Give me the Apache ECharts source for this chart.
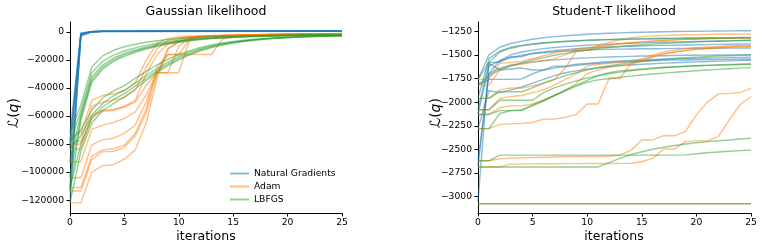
<!DOCTYPE html>
<html><head><meta charset="utf-8">
<script src="https://cdn.jsdelivr.net/npm/echarts@6/dist/echarts.min.js"></script>
<style>html,body{margin:0;padding:0;background:#fff}#c{width:763px;height:250px}</style>
</head><body><div id="c"></div>
<script>
// ---------- data ----------
const ITERS = [0,1,2,3,4,5,6,7,8,9,10,11,12,13,14,15,16,17,18,19,20,21,22,23,24,25];
const X_TICKS = [0,5,10,15,20,25];
const GAUSS_Y_TICKS = [-120000,-100000,-80000,-60000,-40000,-20000,0];
const STUDENT_Y_TICKS = [-3000,-2750,-2500,-2250,-2000,-1750,-1500,-1250];
const METHODS = ['Natural Gradients','Adam','LBFGS'];

// Gaussian likelihood
const GAUSS_NG_ITERS = [0,1,2,3,25];
const GAUSS_NG = [
  [-72000,-600,400,600,700],
  [-78000,-900,300,500,650],
  [-80000,-1100,350,550,600],
  [-83600,-1400,200,500,650],
  [-92600,-1600,250,450,600],
  [-104000,-1900,150,500,700],
  [-111000,-2200,300,550,600],
  [-113500,-2400,100,450,650],
  [-122000,-2800,200,500,600]
];
const GAUSS_ADAM = [
  [-72000,-72000,-48800,-45200,-44000,-41700,-36300,-20000,-8000,-4500,-3500,-3000,-2700,-2500,-2300,-2100,-1950,-1800,-1700,-1600,-1500,-1400,-1300,-1200,-1100,-1000],
  [-78000,-78000,-53000,-50000,-48800,-46400,-41700,-25000,-12000,-6000,-4200,-3300,-2900,-2600,-2400,-2200,-2000,-1850,-1750,-1650,-1550,-1450,-1350,-1250,-1150,-1050],
  [-80000,-80000,-59400,-55800,-55300,-53000,-48800,-30000,-16000,-8500,-5200,-3600,-3000,-2700,-2450,-2250,-2050,-1900,-1780,-1680,-1580,-1480,-1380,-1280,-1180,-1080],
  [-83600,-83600,-60500,-56500,-55800,-53500,-50000,-38000,-29000,-29000,-10000,-4200,-3300,-2900,-2600,-2350,-2150,-1980,-1830,-1710,-1600,-1500,-1400,-1300,-1200,-1100],
  [-92600,-92600,-69500,-66400,-64500,-61700,-57000,-45000,-29000,-16000,-16000,-5000,-3600,-3000,-2700,-2450,-2250,-2050,-1900,-1770,-1650,-1540,-1430,-1320,-1220,-1120],
  [-104000,-104000,-80600,-77000,-75800,-72300,-66400,-50000,-29000,-29000,-29000,-5500,-3800,-3200,-2800,-2500,-2300,-2100,-1950,-1800,-1680,-1560,-1450,-1340,-1240,-1140],
  [-111000,-111000,-88800,-84100,-83300,-80600,-72300,-55000,-25000,-16000,-16000,-16000,-16000,-16000,-5000,-3800,-3200,-2800,-2500,-2250,-2050,-1850,-1700,-1550,-1400,-1250],
  [-113500,-113500,-91200,-85500,-85200,-82300,-74200,-58000,-30000,-12000,-6500,-4200,-3400,-2900,-2600,-2350,-2150,-1980,-1830,-1710,-1600,-1500,-1400,-1300,-1200,-1100],
  [-122000,-122000,-100100,-95400,-94700,-90800,-84100,-65000,-33000,-12000,-7000,-4500,-3500,-3000,-2700,-2450,-2250,-2050,-1900,-1770,-1650,-1540,-1430,-1320,-1220,-1120]
];
const GAUSS_LBFGS = [
  [-72000,-52000,-25000,-17000,-13000,-10500,-8700,-7300,-6200,-5300,-4600,-4100,-3700,-3400,-3100,-2900,-2700,-2550,-2400,-2300,-2200,-2100,-2050,-2000,-1950,-1900],
  [-80000,-56000,-29000,-21000,-16500,-13500,-11300,-9500,-8000,-6800,-5900,-5100,-4500,-4000,-3600,-3300,-3000,-2800,-2600,-2450,-2350,-2250,-2150,-2100,-2050,-2000],
  [-92600,-59000,-32000,-23500,-18500,-15200,-12700,-10700,-9000,-7600,-6500,-5600,-4900,-4300,-3900,-3500,-3200,-2950,-2750,-2600,-2450,-2350,-2250,-2200,-2150,-2100],
  [-104000,-61000,-34000,-25000,-19800,-16300,-13600,-11400,-9600,-8100,-6900,-5900,-5100,-4500,-4000,-3600,-3300,-3050,-2850,-2700,-2550,-2450,-2350,-2250,-2200,-2150],
  [-113500,-63000,-35800,-26500,-21000,-17300,-14400,-12100,-10200,-8600,-7300,-6200,-5400,-4700,-4200,-3800,-3450,-3150,-2950,-2780,-2630,-2500,-2400,-2300,-2250,-2200],
  [-78000,-70000,-55800,-47000,-42000,-38200,-33000,-28000,-23500,-19500,-16000,-13200,-11000,-9200,-7800,-6700,-5800,-5100,-4500,-4000,-3600,-3300,-3000,-2800,-2600,-2500],
  [-83600,-74000,-59400,-51000,-45500,-41700,-36500,-31000,-26000,-21500,-17500,-14400,-11900,-9900,-8300,-7100,-6100,-5300,-4700,-4200,-3800,-3400,-3100,-2900,-2700,-2600],
  [-111000,-80000,-62000,-53500,-48000,-44000,-38500,-33000,-27500,-22800,-18800,-15500,-12800,-10600,-8900,-7500,-6400,-5600,-4900,-4300,-3900,-3500,-3200,-3000,-2800,-2700],
  [-122000,-85000,-65100,-56000,-51000,-46400,-40500,-34500,-29000,-24000,-19800,-16300,-13400,-11100,-9300,-7800,-6700,-5800,-5000,-4400,-4000,-3600,-3300,-3100,-2900,-2800]
];

// Student-T likelihood
const STUDENT_NG = [
  [-1760,-1500,-1420,-1380,-1355,-1335,-1320,-1308,-1298,-1290,-1283,-1277,-1272,-1268,-1264,-1261,-1258,-1256,-1254,-1252,-1250,-1249,-1248,-1247,-1246,-1245],
  [-1960,-1540,-1460,-1420,-1400,-1385,-1373,-1364,-1356,-1350,-1345,-1341,-1337,-1334,-1331,-1329,-1327,-1325,-1323,-1322,-1321,-1320,-1319,-1318,-1317,-1316],
  [-2080,-1580,-1580,-1520,-1520,-1480,-1470,-1455,-1445,-1435,-1428,-1422,-1417,-1413,-1409,-1406,-1403,-1400,-1398,-1396,-1394,-1392,-1390,-1388,-1386,-1384],
  [-1820,-1760,-1760,-1760,-1755,-1700,-1660,-1640,-1625,-1612,-1600,-1590,-1582,-1576,-1570,-1566,-1562,-1559,-1556,-1554,-1552,-1550,-1549,-1548,-1547,-1546],
  [-2130,-1620,-1560,-1530,-1505,-1490,-1478,-1468,-1460,-1454,-1449,-1445,-1442,-1440,-1438,-1436,-1435,-1434,-1433,-1432,-1431,-1430,-1430,-1429,-1429,-1428],
  [-2280,-1880,-1900,-1870,-1840,-1800,-1760,-1720,-1690,-1670,-1650,-1638,-1626,-1616,-1607,-1600,-1594,-1588,-1583,-1578,-1574,-1570,-1567,-1564,-1561,-1558],
  [-3050,-1590,-1660,-1650,-1640,-1660,-1660,-1620,-1620,-1600,-1590,-1581,-1573,-1566,-1560,-1555,-1550,-1546,-1542,-1539,-1536,-1534,-1532,-1530,-1528,-1526],
  [-2620,-1700,-1640,-1610,-1590,-1575,-1563,-1553,-1545,-1538,-1532,-1527,-1523,-1519,-1516,-1513,-1511,-1509,-1507,-1505,-1504,-1503,-1502,-1501,-1500,-1499],
  [-2685,-1700,-1560,-1500,-1470,-1450,-1435,-1423,-1413,-1405,-1398,-1392,-1387,-1382,-1378,-1374,-1370,-1367,-1364,-1361,-1358,-1356,-1354,-1352,-1350,-1348]
];
const STUDENT_ADAM = [
  [-1760,-1760,-1590,-1580,-1570,-1540,-1510,-1480,-1460,-1440,-1425,-1410,-1395,-1383,-1372,-1363,-1355,-1348,-1342,-1337,-1333,-1330,-1327,-1325,-1323,-1321],
  [-1820,-1820,-1660,-1610,-1600,-1580,-1560,-1540,-1500,-1450,-1450,-1400,-1370,-1340,-1320,-1308,-1300,-1295,-1291,-1288,-1286,-1284,-1283,-1282,-1281,-1280],
  [-1960,-1960,-1870,-1850,-1850,-1830,-1800,-1760,-1640,-1460,-1450,-1420,-1400,-1385,-1373,-1363,-1355,-1348,-1342,-1337,-1333,-1329,-1326,-1323,-1320,-1318],
  [-2080,-2080,-1960,-1940,-1930,-1900,-1870,-1820,-1760,-1700,-1620,-1600,-1590,-1580,-1570,-1540,-1500,-1470,-1450,-1435,-1425,-1418,-1412,-1407,-1403,-1400],
  [-2130,-2130,-2060,-2040,-2040,-2020,-1980,-1930,-1880,-1800,-1700,-1660,-1630,-1610,-1600,-1560,-1520,-1490,-1470,-1455,-1445,-1435,-1428,-1422,-1418,-1415],
  [-2280,-2280,-2235,-2230,-2225,-2215,-2180,-2180,-2160,-2130,-2020,-2020,-1750,-1750,-1590,-1560,-1520,-1490,-1470,-1455,-1440,-1430,-1420,-1415,-1410,-1405],
  [-2620,-2620,-2600,-2590,-2588,-2585,-2582,-2580,-2578,-2576,-2575,-2574,-2572,-2558,-2510,-2400,-2400,-2355,-2355,-2310,-2135,-2000,-1915,-1908,-1897,-1855],
  [-2685,-2685,-2685,-2655,-2655,-2653,-2652,-2651,-2650,-2650,-2649,-2648,-2648,-2647,-2646,-2630,-2595,-2495,-2495,-2418,-2410,-2410,-2365,-2190,-2025,-1943]
];
const STUDENT_LBFGS = [
  [-1760,-1580,-1470,-1430,-1405,-1390,-1378,-1368,-1360,-1354,-1349,-1345,-1341,-1338,-1336,-1334,-1332,-1330,-1329,-1328,-1327,-1326,-1325,-1324,-1323,-1322],
  [-1820,-1720,-1660,-1620,-1585,-1555,-1530,-1505,-1485,-1465,-1450,-1435,-1423,-1412,-1402,-1394,-1387,-1380,-1374,-1369,-1364,-1360,-1356,-1352,-1348,-1345],
  [-1960,-1960,-1890,-1890,-1890,-1850,-1800,-1760,-1720,-1690,-1660,-1635,-1615,-1598,-1583,-1570,-1558,-1548,-1539,-1531,-1524,-1518,-1513,-1509,-1506,-1503],
  [-2080,-2080,-1980,-1980,-1980,-1980,-1900,-1850,-1810,-1775,-1745,-1720,-1700,-1683,-1668,-1656,-1646,-1637,-1629,-1622,-1616,-1611,-1607,-1603,-1600,-1597],
  [-2130,-2130,-2090,-2090,-2090,-2030,-1980,-1930,-1880,-1830,-1790,-1765,-1750,-1737,-1725,-1713,-1703,-1693,-1684,-1676,-1668,-1661,-1654,-1647,-1641,-1635],
  [-2280,-2280,-2120,-2090,-2080,-2040,-1990,-1930,-1870,-1820,-1770,-1720,-1690,-1670,-1660,-1650,-1640,-1632,-1626,-1620,-1616,-1612,-1609,-1606,-1603,-1600],
  [-2620,-2620,-2560,-2560,-2560,-2560,-2560,-2560,-2560,-2560,-2560,-2560,-2560,-2560,-2560,-2560,-2560,-2560,-2560,-2558,-2545,-2535,-2527,-2520,-2513,-2507],
  [-2685,-2685,-2685,-2685,-2685,-2685,-2685,-2685,-2685,-2685,-2685,-2685,-2640,-2595,-2555,-2525,-2498,-2477,-2458,-2442,-2430,-2418,-2408,-2400,-2390,-2382]
];
const STUDENT_FLAT_ITERS = [0,25];
const STUDENT_ADAM_FLAT = [-3075,-3075];
const STUDENT_LBFGS_FLAT = [-3075,-3075];

// ---------- chart ----------
const COLORS = ['#1f77b4','#ff7f0e','#2ca02c'];
const LIGHT = ['#8fbbd9','#ffbf86','#95cf95'];
const FONT = 'DejaVu Sans';
const fmt = v => String(v).replace('-', '\u2212');

function mk(m, gi, iters, vals) {
  return {
    type:'line', name:METHODS[m], xAxisIndex:gi, yAxisIndex:gi,
    data: iters.map((x,i)=>[x, vals[i]]),
    showSymbol:false, symbol:'none', silent:true, animation:false,
    lineStyle:{color:COLORS[m], width:1.4, opacity:0.5},
    itemStyle:{color:COLORS[m]},
    emphasis:{disabled:true}
  };
}
const series = [];
GAUSS_NG.forEach(v=>series.push(mk(0,0,GAUSS_NG_ITERS,v)));
GAUSS_ADAM.forEach(v=>series.push(mk(1,0,ITERS,v)));
GAUSS_LBFGS.forEach(v=>series.push(mk(2,0,ITERS,v)));
STUDENT_NG.forEach(v=>series.push(mk(0,1,ITERS,v)));
STUDENT_ADAM.forEach(v=>series.push(mk(1,1,ITERS,v)));
series.push(mk(1,1,STUDENT_FLAT_ITERS,STUDENT_ADAM_FLAT));
STUDENT_LBFGS.forEach(v=>series.push(mk(2,1,ITERS,v)));
series.push(mk(2,1,STUDENT_FLAT_ITERS,STUDENT_LBFGS_FLAT));

const axisBase = {
  axisLine:{show:true, onZero:false, lineStyle:{color:'#000', width:1}},
  splitLine:{show:false}
};
function xAx(gi){
  return Object.assign({}, axisBase, {
    gridIndex:gi, type:'value', min:0, max:25, interval:5,
    axisLabel:{color:'#000', fontSize:9.2, fontFamily:FONT, margin:5, formatter:fmt,
      customValues:X_TICKS},
    axisTick:{show:true, length:3.5, lineStyle:{color:'#000'}, customValues:X_TICKS}
  });
}
function yAx(gi, min, max, ticks){
  return Object.assign({}, axisBase, {
    gridIndex:gi, type:'value', min:min, max:max,
    axisLabel:{color:'#000', fontSize:9.2, fontFamily:FONT, margin:6, formatter:fmt,
      customValues:ticks},
    axisTick:{show:true, length:3.5, lineStyle:{color:'#000'}, customValues:ticks}
  });
}
const richLabel = {
  a:{fontFamily:FONT, fontSize:14, fill:'#000'},
  b:{fontFamily:FONT, fontSize:14, fontStyle:'italic', fill:'#000'}
};
function txt(x,y,text,size){
  return {type:'text', x:x, y:y, silent:true,
    style:{text:text, fontFamily:FONT, fontSize:size, fill:'#000', align:'center', verticalAlign:'middle'}};
}
function ylab(x,y){
  return {type:'text', x:x, y:y, rotation:Math.PI/2, silent:true,
    style:{text:'{a|\u2112(}{b|q}{a|)}', rich:richLabel, fill:'#000', fontSize:14, fontFamily:FONT, align:'center', verticalAlign:'middle'}};
}

const option = {
  animation:false,
  backgroundColor:'#fff',
  grid:[
    {left:70, right:421, top:22, bottom:37},
    {left:478, right:12, top:22, bottom:37}
  ],
  xAxis:[xAx(0), xAx(1)],
  yAxis:[yAx(0,-129200,7200,GAUSS_Y_TICKS), yAx(1,-3172,-1153,STUDENT_Y_TICKS)],
  legend:{
    orient:'vertical', left:225, top:162, itemGap:0, itemWidth:19, itemHeight:2,
    icon:'rect', selectedMode:false,
    textStyle:{fontFamily:FONT, fontSize:9.2, color:'#000', lineHeight:13},
    data: METHODS.map((n,i)=>({name:n, itemStyle:{color:LIGHT[i], opacity:1}}))
  },
  graphic:[
    txt(206,11.5,'Gaussian likelihood',12.5),
    txt(614,11.5,'Student-T likelihood',12.5),
    txt(206,237,'iterations',12.5),
    txt(614,237,'iterations',12.5),
    ylab(14,113),
    ylab(436,113)
  ],
  series:series
};
const chart = echarts.init(document.getElementById('c'), null, {renderer:'canvas'});
chart.setOption(option);
</script>
</body></html>
